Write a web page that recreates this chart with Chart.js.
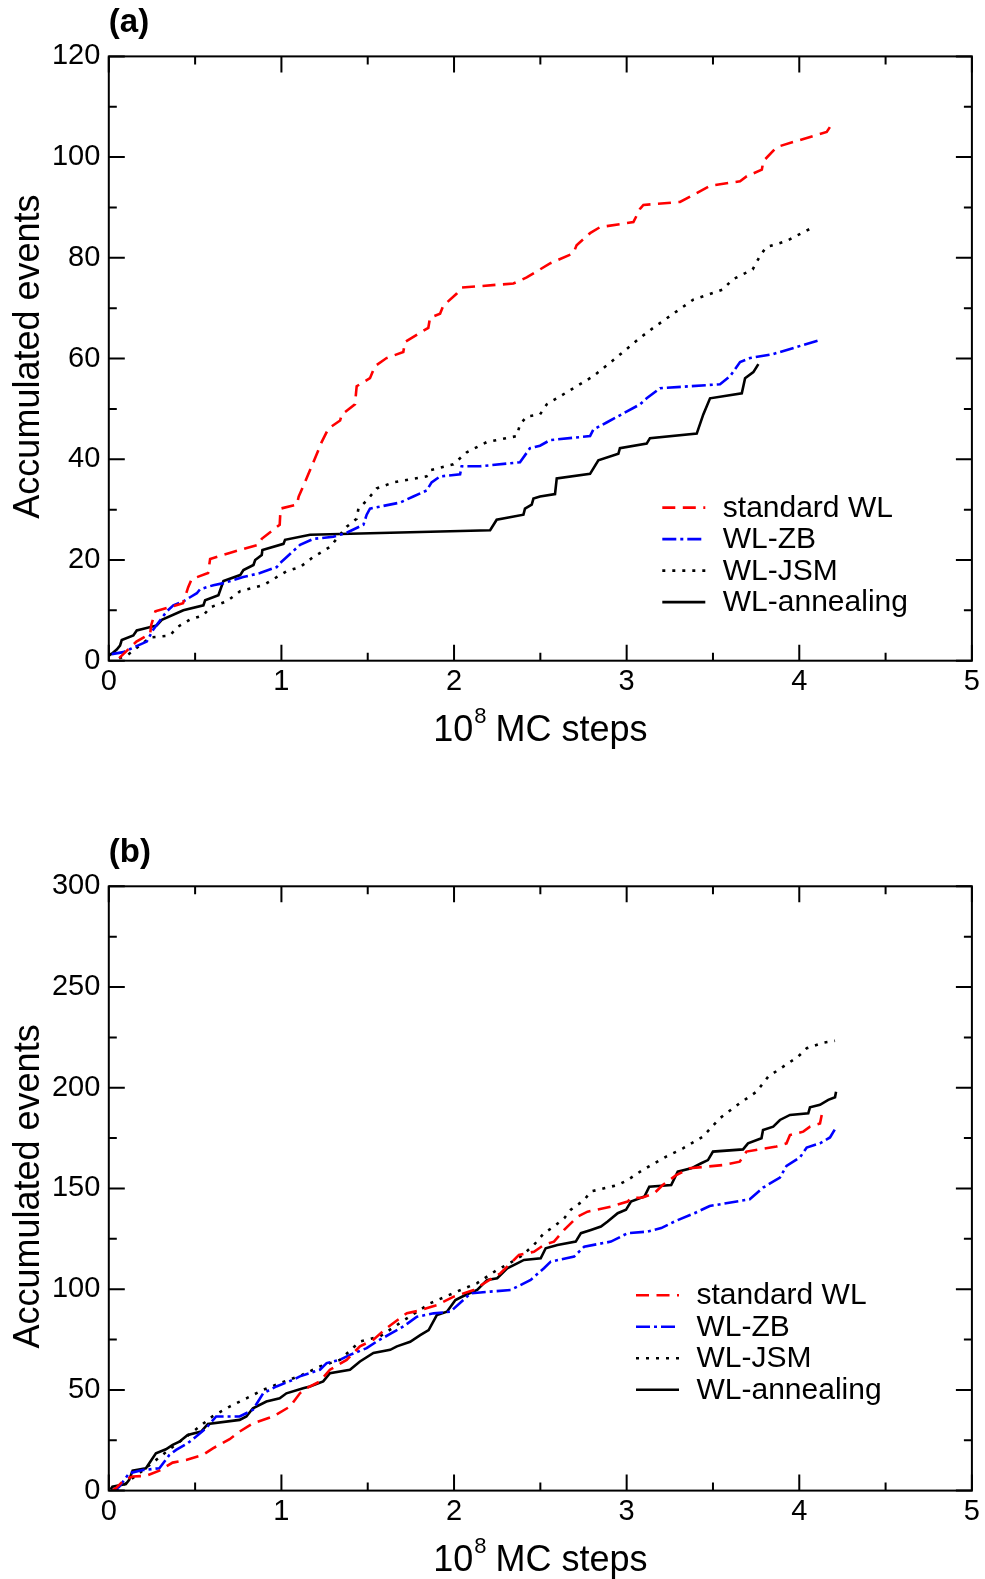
<!DOCTYPE html>
<html>
<head>
<meta charset="utf-8">
<script src="https://cdn.jsdelivr.net/npm/chart.js@4.4.1/dist/chart.umd.min.js"></script>
<style>
  html, body { margin: 0; padding: 0; background: #fff; }
  canvas { display: block; }
</style>
</head>
<body>
<canvas id="chart-a" width="985" height="780"></canvas>
<canvas id="chart-b" width="985" height="799"></canvas>
<script>
// panel (a) and (b): accumulated events vs 10^8 MC steps

const SERIES_NAMES = ["standard WL", "WL-ZB", "WL-JSM", "WL-annealing"];
const X_TICK_STEP = 1;
const A_Y_MAX = 120, A_Y_STEP = 20;
const B_Y_MAX = 300, B_Y_STEP = 50;

// ---- panel (a) ----
const aStandard = [
  [0.06, 0.5], [0.075, 1], [0.16, 3.8], [0.24, 5.4], [0.245, 7], [0.27, 9.8], [0.43, 11.4],
  [0.46, 14.6], [0.48, 16.2], [0.575, 17.4], [0.587, 20.2], [0.70, 21.4], [0.865, 23],
  [0.886, 24.2], [0.99, 27], [0.995, 30.2], [1.09, 31], [1.10, 32.6], [1.136, 35.4],
  [1.185, 39.4], [1.233, 43.4], [1.272, 46.1], [1.34, 47.7], [1.35, 48.9], [1.426, 50.9],
  [1.436, 54.5], [1.513, 56.1], [1.542, 58.5], [1.609, 60.1], [1.706, 61.3], [1.716, 63.3],
  [1.851, 66.1], [1.861, 68.1], [1.919, 68.9], [1.938, 70.5], [2.016, 72.9], [2.045, 74.1],
  [2.344, 74.9], [2.421, 76.1], [2.556, 78.9], [2.691, 80.9], [2.71, 82.5], [2.788, 84.9],
  [2.846, 86.1], [3.039, 87.1], [3.077, 89.7], [3.097, 90.5], [3.309, 91.1], [3.386, 92.5],
  [3.483, 94.3], [3.657, 95.2], [3.696, 96.2], [3.783, 97.5], [3.792, 99.2], [3.869, 102],
  [4.159, 105], [4.178, 106],
];
const aZB = [
  [0.017, 1.3], [0.084, 1.7], [0.142, 2.6], [0.22, 3.8], [0.258, 6.2], [0.336, 9.8],
  [0.374, 11], [0.432, 11.8], [0.471, 12.6], [0.51, 13.4], [0.529, 14.2], [0.606, 15],
  [0.664, 15.4], [0.779, 16.6], [0.876, 17.4], [0.973, 18.6], [0.992, 19.4], [1.031, 20.6],
  [1.108, 23], [1.185, 24.2], [1.301, 24.6], [1.378, 25.4], [1.475, 27], [1.494, 29],
  [1.513, 30.2], [1.687, 31.4], [1.764, 32.6], [1.841, 33.8], [1.87, 35.4], [1.919, 36.6],
  [2.035, 37], [2.044, 38.6], [2.15, 38.6], [2.382, 39.4], [2.44, 42.2], [2.498, 42.7],
  [2.556, 43.8], [2.788, 44.6], [2.807, 45.9], [2.884, 47.3], [3.077, 50.9], [3.116, 52.1],
  [3.193, 54.1], [3.541, 54.9], [3.599, 56.5], [3.657, 59.3], [3.715, 60.1], [3.85, 60.9],
  [4.12, 63.7],
];
const aJSM = [
  [0.06, 0.5], [0.104, 1], [0.239, 4.6], [0.355, 5], [0.394, 6.6], [0.471, 8.2], [0.548, 9],
  [0.587, 10.6], [0.684, 11.8], [0.761, 13.8], [0.896, 15], [0.954, 16.2], [1.031, 17.8],
  [1.108, 18.6], [1.185, 20.6], [1.282, 22.6], [1.32, 24.2], [1.378, 26.6], [1.436, 28.2],
  [1.446, 30.2], [1.494, 31.8], [1.552, 34.2], [1.648, 35.4], [1.841, 36.6], [1.861, 37.8],
  [1.996, 39], [2.035, 40.2], [2.074, 41.4], [2.189, 43.4], [2.363, 44.6], [2.382, 46.9],
  [2.421, 48.5], [2.498, 48.9], [2.537, 50.9], [2.691, 54.1], [2.807, 56.5], [2.923, 59.7],
  [3.077, 64.1], [3.154, 66.1], [3.27, 68.9], [3.386, 71.7], [3.556, 73.7], [3.614, 75.7],
  [3.73, 77.7], [3.768, 80.1], [3.807, 82.1], [3.923, 83.3], [4.082, 86.1],
];
const aAnnealing = [
  [0.0, 1], [0.017, 1.4], [0.046, 2.2], [0.065, 3], [0.075, 4.1], [0.142, 5], [0.162, 6],
  [0.278, 7], [0.307, 8.1], [0.432, 10], [0.548, 11], [0.558, 12], [0.635, 13], [0.664, 15.8],
  [0.761, 17], [0.78, 18], [0.838, 19], [0.848, 20], [0.886, 21], [0.89, 22], [1.012, 23.2],
  [1.021, 24], [1.166, 25], [2.209, 25.9], [2.247, 28], [2.402, 29], [2.411, 30.2],
  [2.45, 31], [2.46, 32.2], [2.498, 32.6], [2.585, 33.1], [2.595, 36.2], [2.788, 37.1],
  [2.836, 39.8], [2.952, 41.1], [2.961, 42.2], [3.116, 43.1], [3.135, 44.2], [3.406, 45.1],
  [3.444, 48.9], [3.483, 52.1], [3.667, 53.1], [3.686, 56.1], [3.734, 57.3], [3.763, 58.9],
];

// ---- panel (b) ----
const bStandard = [
  [0.02, 0], [0.041, 1.2], [0.089, 5.3], [0.138, 7], [0.215, 7.3], [0.293, 9.9], [0.37, 13.9],
  [0.448, 15.2], [0.545, 17.7], [0.603, 21], [0.7, 25.5], [0.758, 29.3], [0.835, 33.4],
  [0.952, 36.8], [1.049, 41.7], [1.107, 48.3], [1.145, 50.8], [1.223, 54.2], [1.281, 60],
  [1.378, 64.9], [1.455, 71.6], [1.533, 74.9], [1.61, 80.7], [1.727, 88.1], [1.785, 89.1],
  [1.901, 92.1], [1.998, 96.3], [2.114, 99.6], [2.173, 102.9], [2.269, 107.9], [2.347, 114.5],
  [2.376, 117], [2.463, 118.6], [2.521, 122], [2.579, 123.6], [2.638, 129.4], [2.715, 136],
  [2.773, 138.5], [2.909, 141], [3.006, 143.5], [3.025, 145.2], [3.093, 145.5], [3.161, 147.7],
  [3.209, 151.7], [3.287, 156.6], [3.364, 160], [3.558, 161.6], [3.655, 163.3], [3.694, 168.3],
  [3.868, 170.8], [3.926, 172.4], [3.946, 176.5], [4.023, 178.2], [4.062, 180.7], [4.12, 182.3],
  [4.13, 186.5],
];
const bZB = [
  [0.03, 0], [0.06, 1.9], [0.118, 8.6], [0.196, 10.2], [0.293, 11.1], [0.351, 17.7], [0.39, 20.2],
  [0.457, 23.5], [0.506, 26.8], [0.564, 31], [0.622, 36.8], [0.758, 36.8], [0.835, 40.1],
  [0.894, 48.3], [0.971, 51.7], [1.068, 55], [1.107, 56.7], [1.223, 60], [1.262, 63.3],
  [1.339, 64.9], [1.397, 67.4], [1.494, 70.7], [1.552, 74], [1.63, 77.8], [1.707, 81.5],
  [1.785, 86.3], [1.882, 88], [1.979, 88.8], [2.095, 97.9], [2.211, 98.8], [2.328, 99.6],
  [2.444, 104.6], [2.521, 110.4], [2.56, 113.7], [2.696, 116.2], [2.754, 121.1], [2.909, 123.6],
  [3.006, 127.8], [3.122, 128.6], [3.2, 130.3], [3.277, 133.6], [3.393, 137.7], [3.481, 141.3],
  [3.713, 144.6], [3.79, 150.4], [3.888, 155.4], [3.926, 161.2], [4.004, 165.4], [4.043, 170.3],
  [4.12, 172.4], [4.178, 175.3], [4.207, 179.5],
];
const bJSM = [
  [0.04, 0], [0.06, 1.2], [0.176, 8.6], [0.37, 21.7], [0.448, 26.6], [0.603, 37], [0.7, 41.7],
  [0.797, 45.8], [0.894, 50], [0.99, 53.3], [1.107, 56.9], [1.223, 61.6], [1.339, 64.9],
  [1.455, 74], [1.571, 76.5], [1.707, 84.4], [1.862, 93], [2.017, 98.8], [2.134, 103],
  [2.25, 109.6], [2.308, 112.2], [2.386, 116.2], [2.463, 122], [2.521, 127.8], [2.579, 131.1],
  [2.638, 135.2], [2.676, 139.4], [2.754, 144.3], [2.793, 148.5], [2.948, 151.7], [3.006, 154.2],
  [3.093, 159.2], [3.229, 165.8], [3.326, 169.9], [3.442, 175.7], [3.539, 184.8], [3.655, 192.3],
  [3.752, 198], [3.82, 205.5], [3.907, 210.5], [3.994, 215.5], [4.043, 219.6], [4.14, 222.4],
  [4.207, 223.3],
];
const bAnnealing = [
  [0.01, 0.5], [0.021, 1.9], [0.099, 3.3], [0.118, 5.3], [0.138, 9.9], [0.215, 11.1],
  [0.273, 18.5], [0.331, 20.5], [0.37, 22.7], [0.409, 24.3], [0.457, 27.6], [0.535, 29.3],
  [0.574, 33.1], [0.758, 35.1], [0.797, 36.8], [0.835, 40.9], [0.913, 44.2], [0.99, 45.8],
  [1.029, 48.3], [1.126, 50.8], [1.165, 51.7], [1.242, 54.2], [1.281, 58.3], [1.397, 60],
  [1.455, 64.1], [1.533, 68.3], [1.63, 69.9], [1.669, 71.6], [1.746, 73.9], [1.804, 77.2],
  [1.853, 79.7], [1.901, 87.2], [1.959, 88.8], [2.008, 94.6], [2.066, 97.1], [2.134, 99.6],
  [2.192, 104.6], [2.25, 105.4], [2.308, 110.4], [2.366, 112.8], [2.405, 114.5], [2.502, 115.3],
  [2.531, 120.3], [2.599, 121.9], [2.705, 123.6], [2.735, 127.8], [2.793, 129.4], [2.851, 131.1],
  [2.89, 133.6], [2.948, 137.7], [2.996, 139.4], [3.025, 143.5], [3.103, 146], [3.131, 150.9],
  [3.258, 151.7], [3.296, 158.3], [3.374, 160], [3.432, 162.5], [3.471, 164.1], [3.5, 168.3],
  [3.674, 169.4], [3.703, 172.4], [3.781, 174.9], [3.79, 179], [3.849, 180.7], [3.888, 184],
  [3.946, 186.5], [4.052, 187.3], [4.062, 190.3], [4.12, 191.5], [4.168, 194], [4.207, 195.3],
  [4.213, 198],
];

const FONT = "'Liberation Sans', Arial, Helvetica, sans-serif";
const STYLES = [
  { color: "#ff0000", dash: [13, 7.5] },
  { color: "#0000ff", dash: [14, 4, 3, 4] },
  { color: "#000000", dash: [3, 7] },
  { color: "#000000", dash: [] },
];

function makeDatasets(seriesList) {
  return seriesList.map((pts, i) => ({
    label: SERIES_NAMES[i],
    data: pts.map(([x, y]) => ({ x, y })),
    borderColor: STYLES[i].color,
    borderDash: STYLES[i].dash,
    borderWidth: 2.6,
    pointRadius: 0,
    tension: 0,
    fill: false,
  }));
}

// inward major + minor ticks on all four sides, plus the box
const frameTicks = {
  id: "frameTicks",
  afterDatasetsDraw(chart) {
    const { ctx, chartArea: a, scales } = chart;
    const MAJOR = 16, MINOR = 8;
    ctx.save();
    ctx.strokeStyle = "#000";
    ctx.lineWidth = 2;
    ctx.beginPath();
    const xt = scales.x.ticks.map((t) => t.value);
    xt.forEach((v, i) => {
      const px = scales.x.getPixelForValue(v);
      ctx.moveTo(px, a.bottom); ctx.lineTo(px, a.bottom - MAJOR);
      ctx.moveTo(px, a.top); ctx.lineTo(px, a.top + MAJOR);
      if (i < xt.length - 1) {
        const mx = scales.x.getPixelForValue((v + xt[i + 1]) / 2);
        ctx.moveTo(mx, a.bottom); ctx.lineTo(mx, a.bottom - MINOR);
        ctx.moveTo(mx, a.top); ctx.lineTo(mx, a.top + MINOR);
      }
    });
    const yt = scales.y.ticks.map((t) => t.value);
    yt.forEach((v, i) => {
      const py = scales.y.getPixelForValue(v);
      ctx.moveTo(a.left, py); ctx.lineTo(a.left + MAJOR, py);
      ctx.moveTo(a.right, py); ctx.lineTo(a.right - MAJOR, py);
      if (i < yt.length - 1) {
        const my = scales.y.getPixelForValue((v + yt[i + 1]) / 2);
        ctx.moveTo(a.left, my); ctx.lineTo(a.left + MINOR, my);
        ctx.moveTo(a.right, my); ctx.lineTo(a.right - MINOR, my);
      }
    });
    ctx.stroke();
    ctx.strokeRect(a.left, a.top, a.right - a.left, a.bottom - a.top);
    ctx.restore();
  },
};

// panel tag, axis titles and the in-plot legend
const annotations = {
  id: "annotations",
  afterDraw(chart, args, opts) {
    const { ctx, chartArea: a } = chart;
    ctx.save();
    ctx.fillStyle = "#000";

    ctx.font = `bold 33px ${FONT}`;
    ctx.textAlign = "left";
    ctx.textBaseline = "alphabetic";
    ctx.fillText(opts.tag, a.left, a.top - 24.5);

    // y title
    ctx.save();
    ctx.translate(29, (a.top + a.bottom) / 2 - 2);
    ctx.rotate(-Math.PI / 2);
    ctx.font = `36px ${FONT}`;
    ctx.textAlign = "center";
    ctx.textBaseline = "middle";
    ctx.fillText("Accumulated events", 0, 0);
    ctx.restore();

    // x title: 10^8 MC steps
    const big = `36px ${FONT}`, sup = `22px ${FONT}`;
    ctx.font = big;
    const w10 = ctx.measureText("10").width;
    const wRest = ctx.measureText(" MC steps").width;
    ctx.font = sup;
    const w8 = ctx.measureText("8").width;
    const total = w10 + w8 + wRest;
    let x = (a.left + a.right) / 2 - total / 2;
    const base = a.bottom + 80;
    ctx.textAlign = "left";
    ctx.textBaseline = "alphabetic";
    ctx.font = big;
    ctx.fillText("10", x, base);
    x += w10;
    ctx.font = sup;
    ctx.fillText("8", x + 1, base - 18);
    x += w8;
    ctx.font = big;
    ctx.fillText(" MC steps", x, base);

    // legend
    const lg = opts.legend;
    ctx.font = `30px ${FONT}`;
    ctx.textBaseline = "middle";
    chart.data.datasets.forEach((ds, i) => {
      const y = a.top + lg.y + i * lg.row;
      const x0 = a.left + lg.x;
      ctx.save();
      ctx.strokeStyle = ds.borderColor;
      ctx.lineWidth = ds.borderWidth;
      ctx.setLineDash(ds.borderDash);
      ctx.beginPath();
      ctx.moveTo(x0, y);
      ctx.lineTo(x0 + lg.len, y);
      ctx.stroke();
      ctx.restore();
      ctx.fillText(ds.label, x0 + lg.textGap, y + 1);
    });
    ctx.restore();
  },
};

function buildChart(canvasId, seriesList, yMax, yStep, pad, xHeight, tag, legend) {
  const ctx = document.getElementById(canvasId).getContext("2d");
  return new Chart(ctx, {
    type: "line",
    data: { datasets: makeDatasets(seriesList) },
    options: {
      responsive: false,
      animation: false,
      devicePixelRatio: 1,
      layout: { padding: pad },
      plugins: {
        legend: { display: false },
        tooltip: { enabled: false },
        annotations: { tag, legend },
      },
      scales: {
        x: {
          type: "linear",
          min: 0,
          max: 5,
          grid: { display: false, drawTicks: false },
          border: { display: false },
          ticks: {
            stepSize: X_TICK_STEP,
            padding: 4,
            color: "#000",
            font: { family: FONT, size: 29 },
            maxRotation: 0,
          },
          afterFit: (s) => { s.height = xHeight; },
        },
        y: {
          type: "linear",
          min: 0,
          max: yMax,
          grid: { display: false, drawTicks: false },
          border: { display: false },
          ticks: {
            stepSize: yStep,
            padding: 8.5,
            color: "#000",
            font: { family: FONT, size: 29 },
          },
          afterFit: (s) => { s.width = 108.8; },
        },
      },
    },
    plugins: [frameTicks, annotations],
  });
}

buildChart(
  "chart-a",
  [aStandard, aZB, aJSM, aAnnealing],
  A_Y_MAX, A_Y_STEP,
  { top: 56.4, right: 13.1, bottom: 0, left: 0 },
  119.3,
  "(a)",
  { x: 553.5, y: 451.2, row: 31.5, len: 43, textGap: 60.5 }
);

buildChart(
  "chart-b",
  [bStandard, bZB, bJSM, bAnnealing],
  B_Y_MAX, B_Y_STEP,
  { top: 106.3, right: 13.1, bottom: 0, left: 0 },
  88.4,
  "(b)",
  { x: 527.2, y: 408.9, row: 31.5, len: 43, textGap: 60.5 }
);
</script>
</body>
</html>
